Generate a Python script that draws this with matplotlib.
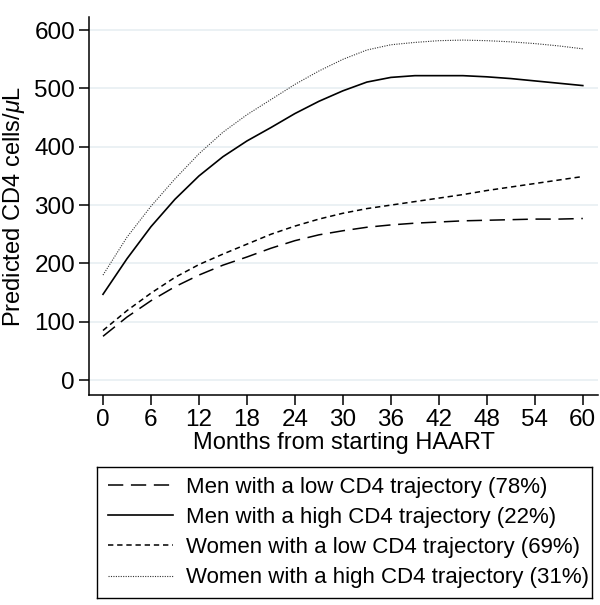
import numpy as np
import matplotlib
matplotlib.use("Agg")
import matplotlib.pyplot as plt

plt.rcParams['font.family'] = ['Liberation Sans', 'DejaVu Sans']
plt.rcParams['mathtext.fontset'] = 'custom'
plt.rcParams['mathtext.it'] = 'Liberation Sans:italic'

months = [0, 3, 6, 9, 12, 15, 18, 21, 24, 27, 30, 33, 36, 39, 42, 45, 48, 51, 54, 57, 60]
men_low = [75, 108, 136, 160, 180, 197, 211, 226, 239, 249, 256, 262, 266, 269, 271, 273, 274, 275, 276, 276, 277]
men_high = [147, 208, 263, 310, 350, 383, 410, 433, 457, 478, 496, 511, 519, 522, 522, 522, 520, 517, 513, 509, 505]
women_low = [85, 119, 149, 176, 198, 216, 233, 250, 264, 276, 286, 294, 300, 306, 312, 318, 325, 331, 337, 343, 349]
women_high = [180, 245, 298, 345, 388, 425, 455, 481, 507, 530, 550, 566, 575, 579, 582, 583, 582, 580, 577, 573, 568]

labels = ['Men with a low CD4 trajectory (78%)',
          'Men with a high CD4 trajectory (22%)',
          'Women with a low CD4 trajectory (69%)',
          'Women with a high CD4 trajectory (31%)']

fig = plt.figure(figsize=(6.0, 6.05), dpi=100)
ax = fig.add_axes([89/600, 1-395/605, 509/600, 378/605])

grid_col = '#e8eff2'
for v in range(0, 601, 100):
    ax.axhline(v, color=grid_col, lw=1.2, zorder=0)

h1, = ax.plot(months, men_low, color='black', lw=1.1, dashes=(10, 5))
h2, = ax.plot(months, men_high, color='black', lw=1.2)
h3, = ax.plot(months, women_low, color='black', lw=1.1, dashes=(3.5, 2.5))
h4, = ax.plot(months, women_high, color='#333333', lw=0.8, dashes=(1, 1.2))

ax.set_xlim(-1.75, 61.9)
ax.set_ylim(-25.7, 622.6)
ax.set_xticks(range(0, 61, 6))
ax.set_yticks(range(0, 601, 100))
for s in ['top', 'right']:
    ax.spines[s].set_visible(False)
for s in ['left', 'bottom']:
    ax.spines[s].set_linewidth(1.1)
ax.tick_params(labelsize=17.5, length=7, width=1.1, direction='out', pad=3)
ax.set_xlabel('Months from starting HAART', fontsize=17, labelpad=1)
ax.set_ylabel('Predicted CD4 cells/$\\mu$L', fontsize=17, labelpad=5)

lax = fig.add_axes([97/600, 1-598/605, 495/600, 131/605])
lax.set_xticks([])
lax.set_yticks([])
for s in lax.spines.values():
    s.set_linewidth(1.0)
lax.legend([h1, h2, h3, h4], labels, loc='center left', frameon=False,
           fontsize=16, handlelength=2.9, handletextpad=0.6,
           labelspacing=0.42, borderaxespad=0.1)

fig.savefig('out.png', dpi=100)
